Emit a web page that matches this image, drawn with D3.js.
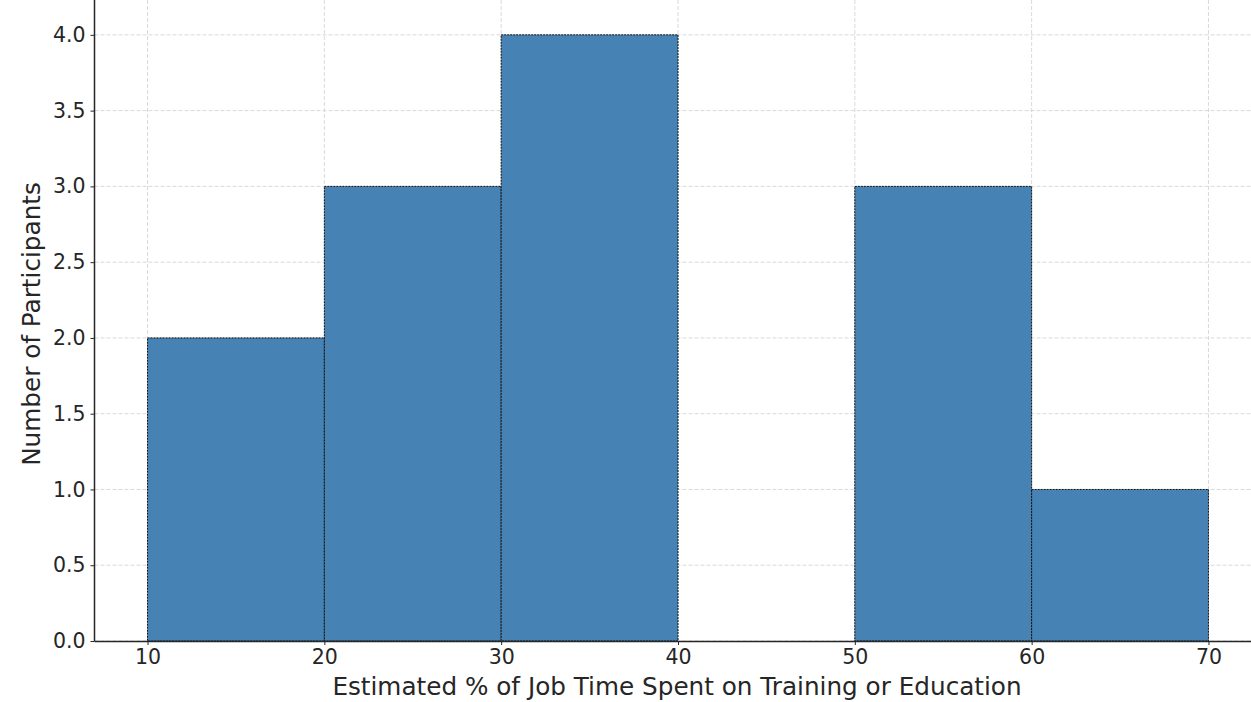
<!DOCTYPE html>
<html><head><meta charset="utf-8">
<script src="https://cdn.jsdelivr.net/npm/d3@7"></script>
<style>body{margin:0;background:#fff}svg{display:block}text{font-family:"DejaVu Sans",sans-serif;fill:#262626}</style>
</head><body>
<script>
const binStarts = [10, 20, 30, 40, 50, 60];
const binEnds   = [20, 30, 40, 50, 60, 70];
const counts    = [2, 3, 4, 0, 3, 1];
const xTicks = [10, 20, 30, 40, 50, 60, 70];
const yTicks = [0, 0.5, 1, 1.5, 2, 2.5, 3, 3.5, 4];
const xLabel = "Estimated % of Job Time Spent on Training or Education";
const yLabel = "Number of Participants";

const W = 1251, H = 702;
const svg = d3.select("body").append("svg").attr("width", W).attr("height", H);
const x = d3.scaleLinear().domain([7, 73]).range([94.5, 1261.5]);
const y = d3.scaleLinear().domain([0, 4.23]).range([641, 0]);

const g = svg.append("g");
// grid
g.selectAll(".gx").data(xTicks).join("line")
  .attr("x1", d => x(d)).attr("x2", d => x(d)).attr("y1", 0).attr("y2", 641)
  .attr("stroke", "#cfcfcf").attr("stroke-width", 0.8).attr("stroke-dasharray", "4,2");
g.selectAll(".gy").data(yTicks).join("line")
  .attr("x1", 94.5).attr("x2", W).attr("y1", d => y(d)).attr("y2", d => y(d))
  .attr("stroke", "#cfcfcf").attr("stroke-width", 0.8).attr("stroke-dasharray", "4,2");

// bars
const bins = binStarts.map((s, i) => ({s, e: binEnds[i], c: counts[i]}));
g.selectAll(".bar").data(bins.filter(d => d.c > 0)).join("rect")
  .attr("x", d => x(d.s)).attr("width", d => x(d.e) - x(d.s))
  .attr("y", d => y(d.c)).attr("height", d => y(0) - y(d.c))
  .attr("fill", "#4682b4").attr("stroke", "#111").attr("stroke-width", 1)
  .attr("stroke-dasharray", "2,1");

// axes
const xAxis = d3.axisBottom(x).tickValues(xTicks).tickFormat(d3.format("d")).tickSize(4).tickPadding(4);
const yAxis = d3.axisLeft(y).tickValues(yTicks).tickFormat(d3.format(".1f")).tickSize(4).tickPadding(5);
const gx = svg.append("g").attr("transform", "translate(0,641)").call(xAxis);
const gy = svg.append("g").attr("transform", "translate(94.5,0)").call(yAxis);
[gx, gy].forEach(a => {
  a.select(".domain").attr("stroke", "#262626").attr("stroke-width", 1.5);
  a.selectAll(".tick line").attr("stroke", "#262626");
  a.selectAll(".tick text").attr("font-size", 20.5).style("fill", "#262626");
});
gx.select(".domain").attr("d", "M94.5,0.5H1251");
gy.select(".domain").attr("d", "M0,641V0");

svg.append("text").attr("x", 677).attr("y", 688).attr("text-anchor", "middle")
  .attr("dominant-baseline", "middle").attr("font-size", 24.7).text(xLabel);
svg.append("text").attr("transform", "translate(33,324) rotate(-90)").attr("text-anchor", "middle")
  .attr("dominant-baseline", "middle").attr("font-size", 24.7).text(yLabel);
</script>
</body></html>
